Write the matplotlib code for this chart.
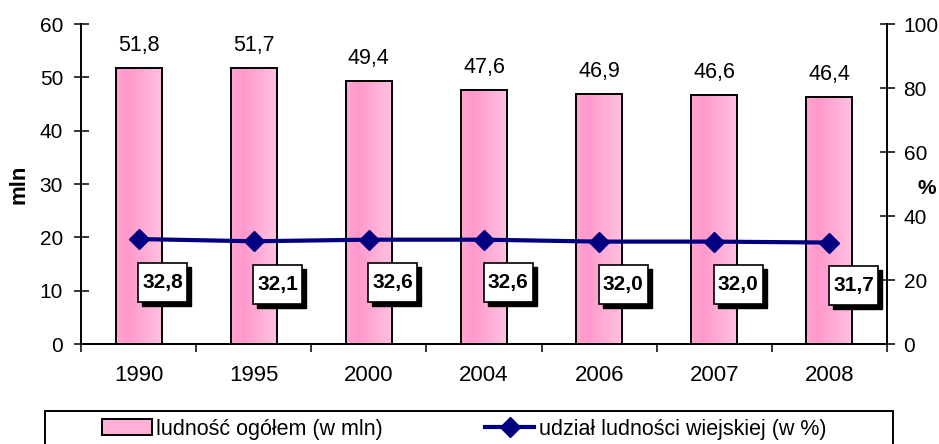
import numpy as np
import matplotlib
matplotlib.use("Agg")
import matplotlib.pyplot as plt
from matplotlib.patches import Rectangle, Patch
from matplotlib.lines import Line2D
from matplotlib.colors import LinearSegmentedColormap
from matplotlib.transforms import ScaledTranslation

plt.rcParams['font.family'] = ['Liberation Sans', 'DejaVu Sans']

years = ['1990', '1995', '2000', '2004', '2006', '2007', '2008']
population = [51.8, 51.7, 49.4, 47.6, 46.9, 46.6, 46.4]
rural_share = [32.8, 32.1, 32.6, 32.6, 32.0, 32.0, 31.7]
bar_labels = ['51,8', '51,7', '49,4', '47,6', '46,9', '46,6', '46,4']
share_labels = ['32,8', '32,1', '32,6', '32,6', '32,0', '32,0', '31,7']
left_ticks = [0, 10, 20, 30, 40, 50, 60]
right_ticks = [0, 20, 40, 60, 80, 100]

W, H = 939, 444
fig = plt.figure(figsize=(W / 100, H / 100), dpi=100)
ax = fig.add_axes([81 / W, 1 - 344 / H, (887 - 81) / W, (344 - 24) / H])
ax2 = ax.twinx()

x = np.arange(len(years))
bars = ax.bar(x, population, width=0.4, facecolor='none', edgecolor='black',
              linewidth=1.4, zorder=3)

cmap = LinearSegmentedColormap.from_list(
    'pinkgrad', [(0.0, '#FFA6D2'), (0.25, '#FF99CC'), (1.0, '#FFC2E1')])
grad = np.linspace(0, 1, 256).reshape(1, -1)
for b in bars:
    x0, y0 = b.get_x(), b.get_y()
    im = ax.imshow(grad, cmap=cmap, aspect='auto', zorder=2,
                   extent=[x0, x0 + b.get_width(), y0, y0 + b.get_height()],
                   interpolation='bilinear')
    im.set_clip_path(b)

for xi, v, lab in zip(x, population, bar_labels):
    ax.annotate(lab, (xi, v), xytext=(0, 12), textcoords='offset pixels',
                ha='center', va='bottom', fontsize=15.5)

ax.set_xlim(-0.5, len(years) - 0.5)
ax.set_ylim(0, 60)
ax.set_yticks(left_ticks)
ax.set_xticks(x)
ax.set_xticklabels(years, fontsize=16)
ax.set_xticks(np.arange(len(years) + 1) - 0.5, minor=True)
ax.tick_params(axis='x', which='major', length=0, pad=15)
ax.tick_params(axis='x', which='minor', length=5.5, width=1.1, direction='out')
ax.tick_params(axis='y', labelsize=15, length=10.8, width=1.1, direction='inout', pad=7.5)
ax.set_ylabel('mln', fontsize=16, fontweight='bold', labelpad=7)

ax2.set_ylim(0, 100)
ax2.set_yticks(right_ticks)
ax2.tick_params(axis='y', labelsize=15, length=10.8, width=1.1, direction='inout', pad=6.5)
ax2.plot(x, rural_share, color='#000080', linewidth=3, marker='D',
         markersize=10, zorder=4)

for sp in ['top']:
    ax.spines[sp].set_visible(False)
    ax2.spines[sp].set_visible(False)
for a in (ax, ax2):
    for sp in ['left', 'right', 'bottom']:
        a.spines[sp].set_linewidth(1.4)
ax2.spines['left'].set_visible(False)
ax.spines['right'].set_visible(False)

# value boxes with shadow
bw, bh = 0.49, 0.39
dx, dy = 0.24, -0.43
for xi, v, lab in zip(x, rural_share, share_labels):
    tr = fig.dpi_scale_trans + ScaledTranslation(xi, v, ax2.transData)
    ax2.add_patch(Rectangle((dx - bw / 2 + 0.04, dy - bh / 2 - 0.04), bw, bh,
                            transform=tr, facecolor='black', edgecolor='black',
                            zorder=5, clip_on=False))
    ax2.add_patch(Rectangle((dx - bw / 2, dy - bh / 2), bw, bh,
                            transform=tr, facecolor='white', edgecolor='black',
                            linewidth=1.2, zorder=6, clip_on=False))
    ax2.text(dx, dy, lab, transform=tr, ha='center', va='center',
             fontsize=15, fontweight='bold', zorder=7)

fig.text(927 / W, 1 - 188 / H, '%', fontsize=15, fontweight='bold',
         ha='center', va='center')

# legend
fig.add_artist(Rectangle((45 / W, -0.05), (893 - 45) / W, 0.05 + (444 - 411) / H,
                         transform=fig.transFigure, fill=False, edgecolor='black',
                         linewidth=1.4, clip_on=False))
handles = [Patch(facecolor='#FFB0D8', edgecolor='black', linewidth=1.4),
           Line2D([], [], color='#000080', linewidth=3, marker='D', markersize=10)]
fig.legend(handles, ['ludność ogółem (w mln)', 'udział ludności wiejskiej (w %)'],
           loc='center left', bbox_to_anchor=(102 / W, 1 - 429 / H), ncol=2,
           frameon=False, fontsize=15.5, handlelength=2.3, handletextpad=0.2,
           columnspacing=4.75, borderpad=0, borderaxespad=0)

fig.savefig('out.png', dpi=100)
